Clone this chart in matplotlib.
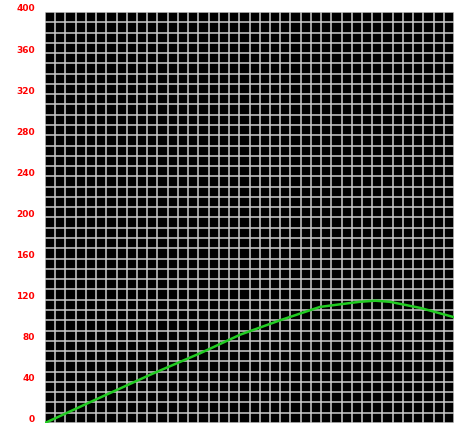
import matplotlib.pyplot as plt
import numpy as np
from matplotlib.transforms import offset_copy

# curve samples
x_vals = [0, 50, 103, 152, 191, 230, 269, 308, 323, 337, 367, 400]
y_vals = [0, 23, 47, 68, 86, 100, 113, 118, 119, 118, 112, 103]
y_ticks = [0, 40, 80, 120, 160, 200, 240, 280, 320, 360, 400]

fig = plt.figure(figsize=(4.54, 4.25), dpi=100)
ax = fig.add_axes([45 / 454, 2 / 425, 409 / 454, 411 / 425])
ax.set_facecolor("black")

ax.set_xlim(0, 400)
ax.set_ylim(0, 400)
ax.set_xticks(np.arange(0, 401, 10))
ax.set_yticks(np.arange(0, 401, 10))
ax.set_xticklabels([])
ax.set_yticklabels([])
ax.grid(True, color="#cccccc", linewidth=1.1)
ax.set_axisbelow(True)

label_tr = offset_copy(ax.transData, fig=fig, x=-10, y=3, units="dots")
for v in y_ticks:
    ax.text(0, v, str(v), transform=label_tr, ha="right", va="center",
            color="red", fontsize=6.5, fontweight="bold", clip_on=False)

ax.tick_params(length=0)
for s in ax.spines.values():
    s.set_visible(False)

ax.plot(x_vals, y_vals, color="#22cc22", linewidth=1.8, zorder=3)

fig.savefig("out.png", dpi=100)
